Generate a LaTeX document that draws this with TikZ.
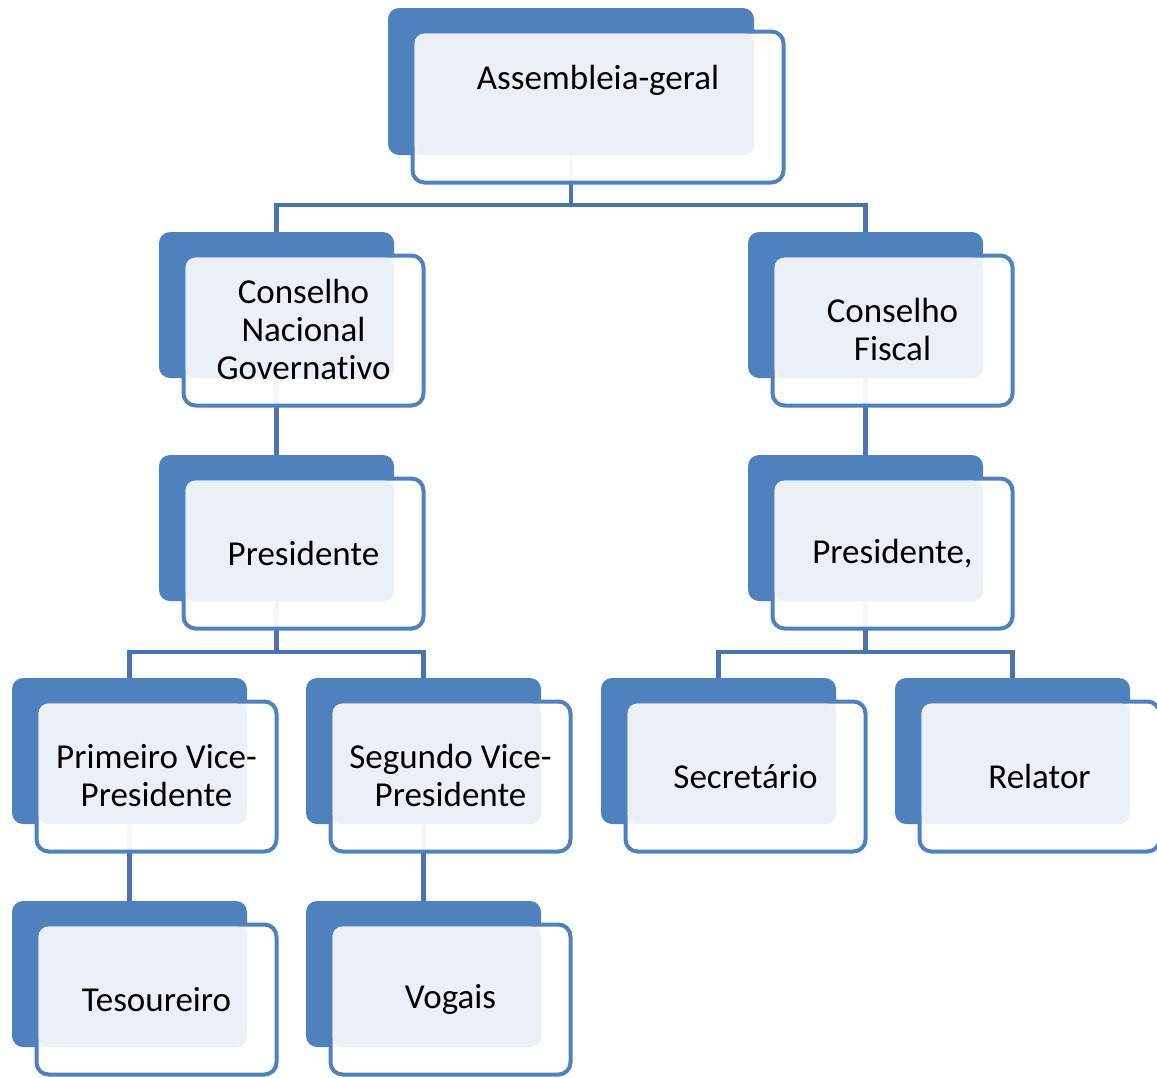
\documentclass[tikz,border=0pt]{standalone}
\usepackage{fontspec}
\setmainfont[Ligatures=NoCommon]{Carlito}
\usetikzlibrary{backgrounds}
\definecolor{dark}{HTML}{4F81BD}
\definecolor{conn}{HTML}{4A74AB}
\definecolor{lightb}{HTML}{EBF0F7}
\newcommand\obox[5]{%
  \node[back, minimum width=#4, minimum height=#5] (#1) at (#2,#3) {};
  \node[front, minimum width=#4+5, minimum height=#5+4] (#1f) at (#2+24.5,#3+23.5) {};
  \fill[lightb, rounded corners=10pt] ([shift={(2,2)}]#1f.north west) rectangle (#1.south east);
}
\begin{document}
\begin{tikzpicture}[x=1pt,y=-1pt,
  back/.style={rectangle, draw=none, fill=dark, rounded corners=11pt, anchor=north west, inner sep=0pt, outer sep=0pt},
  front/.style={rectangle, draw=dark, line width=4pt, fill=white, fill opacity=0.94, rounded corners=12pt, anchor=north west, inner sep=0pt, outer sep=0pt},
  txt/.style={align=center, text=black, font=\fontsize{35}{38}\selectfont, inner sep=0pt},
  conn/.style={draw=conn, line width=4.5pt}]
\useasboundingbox (0,0) rectangle (1157,1077);
\obox{asm}{388}{8}{366}{147}
\obox{cng}{159}{232}{235}{146}
\obox{cf}{748}{232}{235}{146}
\obox{pl}{159}{455}{235}{146}
\obox{pr}{748}{455}{235}{146}
\obox{pvp}{12}{678}{235}{146}
\obox{svp}{306}{678}{235}{146}
\obox{sec}{601}{678}{235}{146}
\obox{rel}{895}{678}{235}{146}
\obox{tes}{12}{901}{235}{146}
\obox{vog}{306}{901}{235}{146}
\node[txt] (asmt) at ([yshift=27]asmf.center) {Assembleia-geral};
\node[txt] (cngt) at ([yshift=1]cngf.center) {Conselho\\Nacional\\Governativo};
\node[txt] (cft) at ([yshift=1]cff.center) {Conselho\\Fiscal};
\node[txt] (plt) at (plf.center) {Presidente};
\node[txt] (prt) at (prf.center) {Presidente,};
\node[txt] (pvpt) at ([yshift=1]pvpf.center) {Primeiro Vice-\\Presidente};
\node[txt] (svpt) at ([yshift=1]svpf.center) {Segundo Vice-\\Presidente};
\node[txt] (sect) at (secf.center) {Secretário};
\node[txt] (relt) at (relf.center) {Relator};
\node[txt] (test) at (tesf.center) {Tesoureiro};
\node[txt] (vogt) at (vogf.center) {Vogais};
\begin{pgfonlayer}{background}
\draw[conn] (asm.south) -- ++(0,50) -| (cng.north);
\draw[conn] (asm.south) -- ++(0,50) -| (cf.north);
\draw[conn] (cng.south) -- (pl.north);
\draw[conn] (cf.south) -- (pr.north);
\draw[conn] (pl.south) -- ++(0,51) -| (pvp.north);
\draw[conn] (pl.south) -- ++(0,51) -| (svp.north);
\draw[conn] (pr.south) -- ++(0,51) -| (sec.north);
\draw[conn] (pr.south) -- ++(0,51) -| (rel.north);
\draw[conn] (pvp.south) -- (tes.north);
\draw[conn] (svp.south) -- (vog.north);
\end{pgfonlayer}
\end{tikzpicture}
\end{document}
